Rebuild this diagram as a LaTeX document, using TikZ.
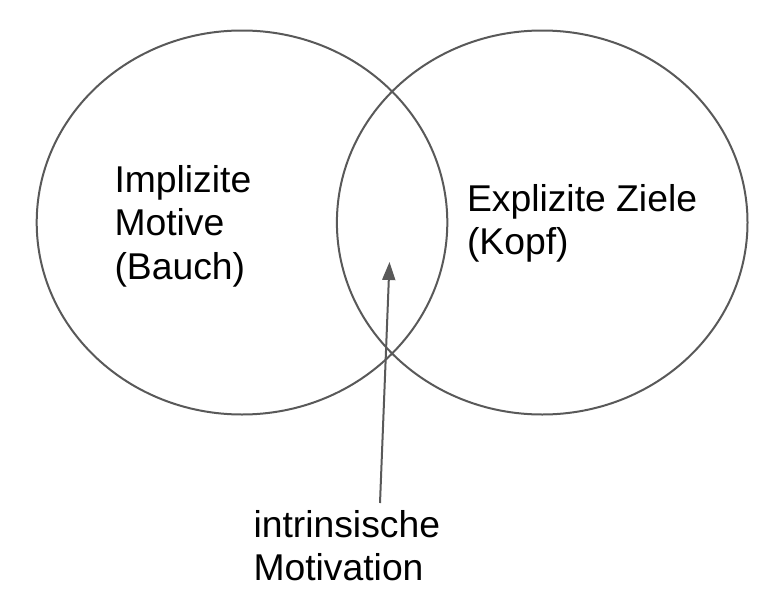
\documentclass[tikz,border=0pt]{standalone}
\usepackage{fontspec}
\setmainfont{Liberation Sans}
\usetikzlibrary{arrows.meta}
\definecolor{linegray}{HTML}{595959}
\tikzset{
  ring/.style={draw=linegray, line width=2pt},
  label/.style={inner sep=0pt, outer sep=0pt, anchor=base west, align=left,
    font=\fontsize{37.3pt}{43.7pt}\selectfont, text=black},
  pointer/.style={draw=linegray, line width=2pt, -{Triangle[width=13pt,length=18pt]}}
}
\begin{document}
\begin{tikzpicture}[x=1pt,y=-1pt]
\useasboundingbox (0,0) rectangle (778,605);
\draw[ring] (242,222.5) ellipse [x radius=205.3, y radius=192];
\draw[ring] (542.2,222.5) ellipse [x radius=205.3, y radius=192];
\node[label] (implizit) at (114.5,279.4) {Implizite\\Motive\\(Bauch)};
\node[label] (explizit) at (467,254.7) {Explizite Ziele\\(Kopf)};
\node[label] (intrinsisch) at (253.5,580.7) {intrinsische\\Motivation};
\coordinate (tip) at (389.5,262);
\coordinate (tail) at (380,503);
\draw[pointer] (tail) -- (tip);
\end{tikzpicture}
\end{document}
